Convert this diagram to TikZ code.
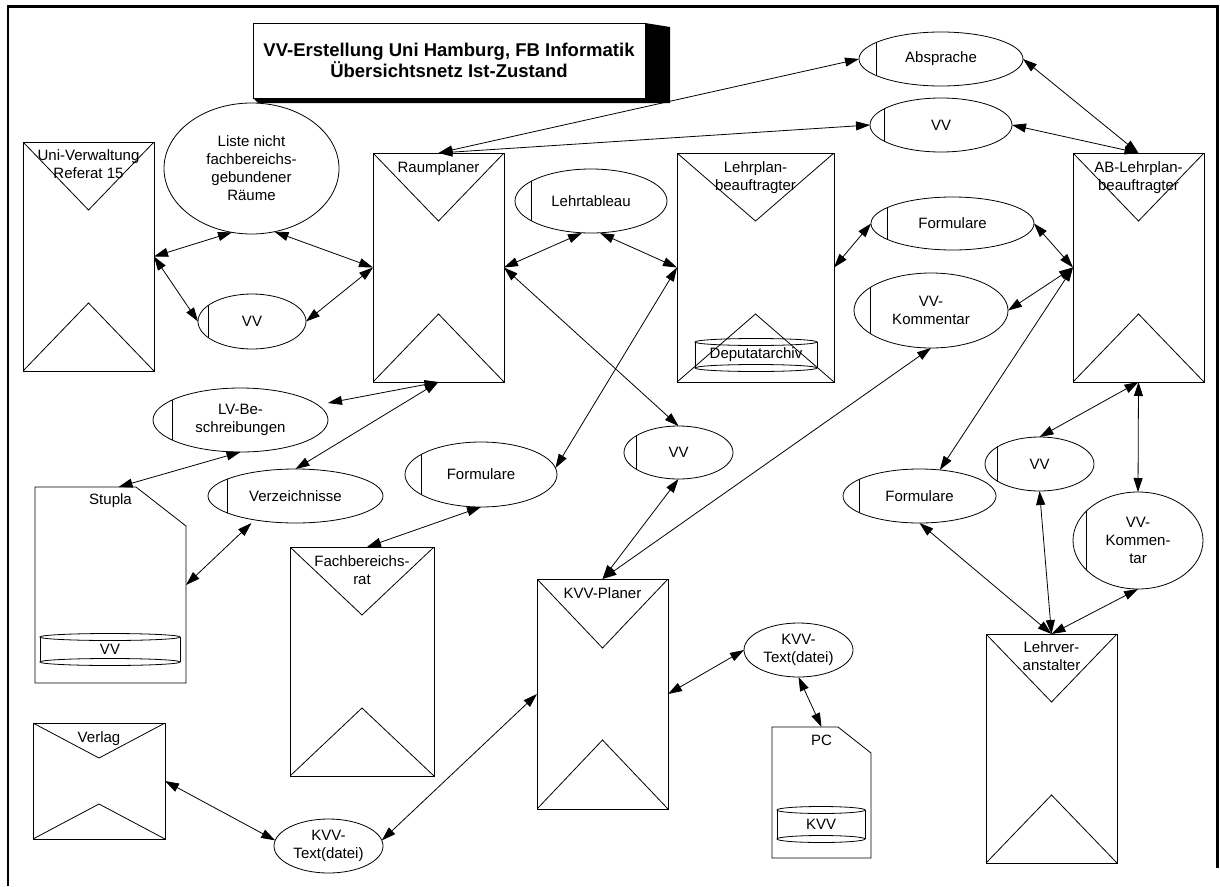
\documentclass[tikz,border=0pt]{standalone}
\usepackage{fontspec}
\setmainfont{Liberation Sans}
\usetikzlibrary{shapes.geometric,arrows.meta,calc}

\begin{document}
\begin{tikzpicture}[x=1pt,y=-1pt,line width=0.8pt,
  every node/.style={inner sep=0pt,outer sep=0pt},
  lbl/.style={font=\fontsize{15}{18}\selectfont,align=center},
  % instance box: rectangle with a triangle hanging from the top and one rising from the bottom
  actor/.style n args={3}{draw,rectangle,minimum width=#1pt,minimum height=#2pt,
    path picture={
      \draw (path picture bounding box.north west) -- ([yshift=-#3pt]path picture bounding box.north) -- (path picture bounding box.north east);
      \draw (path picture bounding box.south west) -- ([yshift=#3pt]path picture bounding box.south) -- (path picture bounding box.south east);
    }},
  % channel with a store bar near its left end
  store/.style n args={3}{draw,ellipse,minimum width=#1pt,minimum height=#2pt,
    font=\fontsize{15}{18}\selectfont,align=center,
    path picture={
      \draw ([xshift=#3pt]path picture bounding box.south west) -- ([xshift=#3pt]path picture bounding box.north west);
    }},
  chan/.style 2 args={draw,ellipse,minimum width=#1pt,minimum height=#2pt,
    font=\fontsize{15}{18}\selectfont,align=center},
  docarea/.style 2 args={rectangle,minimum width=#1pt,minimum height=#2pt},
  drumarea/.style 2 args={rectangle,minimum width=#1pt,minimum height=#2pt,
    font=\fontsize{15}{18}\selectfont},
  >={Triangle[length=14pt,width=9pt]},
  conn/.style={<->,line width=0.8pt}
]
\useasboundingbox (0,0) rectangle (1220,886);
\fill[white] (0,0) rectangle (1220,886);

% outer frame
\draw[line width=2.5pt] (8,886) -- (8,6.5) -- (1217.5,6.5) -- (1217.5,868);

% title with block shadow
\node[draw,fill=white,minimum width=392pt,minimum height=75pt,
  font=\bfseries\fontsize{18.5}{21.5}\selectfont,align=center] (title) at (449,60.5) {};
\fill (title.north east) -- ++(25,4) -- ($(title.south east)+(25,5)$) -- ($(title.south west)+(5,5)$) -- (title.south west) -- cycle;
\node[draw,fill=white,minimum width=392pt,minimum height=75pt,
  font=\bfseries\fontsize{18.5}{21.5}\selectfont,align=center] (titletext) at (449,60.5)
  {VV-Erstellung Uni Hamburg, FB Informatik\\Übersichtsnetz Ist-Zustand};

% instances
\node[actor={131}{229}{68}] (uv) at (88.5,256.5) {};
\node[lbl,anchor=north] (uvT) at ([yshift=-8pt]uv.north) {Uni-Verwaltung\\Referat 15};

\node[actor={131}{229}{68}] (rp) at (438.5,267.5) {};
\node[lbl,anchor=north] (rpT) at ([yshift=-9pt]rp.north) {Raumplaner};

\node[actor={157}{229}{68}] (lp) at (755.5,267.5) {};
\node[lbl,anchor=north] (lpT) at ([yshift=-9pt]lp.north) {Lehrplan-\\beauftragter};

\node[actor={131}{229}{68}] (ab) at (1138.5,267.5) {};
\node[lbl,anchor=north] (abT) at ([yshift=-9pt]ab.north) {AB-Lehrplan-\\beauftragter};

\node[actor={144}{229}{68}] (fb) at (362,661.5) {};
\node[lbl,anchor=north] (fbT) at ([yshift=-9pt]fb.north) {Fachbereichs-\\rat};

\node[actor={131}{230}{69}] (kp) at (602.5,694) {};
\node[lbl,anchor=north] (kpT) at ([yshift=-9pt]kp.north) {KVV-Planer};

\node[actor={131}{229}{68}] (lv) at (1051.5,748.5) {};
\node[lbl,anchor=north] (lvT) at ([yshift=-8pt]lv.north) {Lehrver-\\anstalter};

\node[actor={132}{116}{35}] (vl) at (99,781) {};
\node[lbl,anchor=north] (vlT) at ([yshift=-9pt]vl.north) {Verlag};

% documents with a cut corner
\node[docarea={151}{196}] (st) at (110.5,585) {};
\draw (st.north west) -- ([xshift=-50pt]st.north east) -- ([yshift=-39pt]st.north east) -- (st.south east) -- (st.south west) -- cycle;
\node[lbl,anchor=north] (stT) at ([yshift=-7pt]st.north) {Stupla};

\node[docarea={99}{131}] (pc) at (821.5,792.5) {};
\draw (pc.north west) -- ([xshift=-33pt]pc.north east) -- ([yshift=-26pt]pc.north east) -- (pc.south east) -- (pc.south west) -- cycle;
\node[lbl,anchor=north] (pcT) at ([yshift=-8pt]pc.north) {PC};

% data drums
\node[drumarea={140}{25}] (d1) at (110,649.5) {VV};
\draw (d1.north) ellipse [x radius=70,y radius=3.5];
\draw (d1.south) ellipse [x radius=70,y radius=3.5];
\draw (d1.north west) -- (d1.south west) (d1.north east) -- (d1.south east);

\node[drumarea={122}{26}] (d2) at (756,355) {Deputatarchiv};
\draw (d2.north) ellipse [x radius=61,y radius=3.5];
\draw (d2.south) ellipse [x radius=61,y radius=3.5];
\draw (d2.north west) -- (d2.south west) (d2.north east) -- (d2.south east);

\node[drumarea={88}{29}] (d3) at (821,824.5) {KVV};
\draw (d3.north) ellipse [x radius=44,y radius=3.5];
\draw (d3.south) ellipse [x radius=44,y radius=3.5];
\draw (d3.north west) -- (d3.south west) (d3.north east) -- (d3.south east);

% channels
\node[chan={175}{131}] (li) at (251.5,168.5) {Liste nicht\\fachbereichs-\\gebundener\\Räume};
\node[store={108}{55}{10}] (vv1) at (252,321.5) {VV};
\node[store={152}{64}{16}] (lt) at (591,201) {Lehrtableau};
\node[store={164}{54}{17}] (ap) at (941,59) {Absprache};
\node[store={142}{54}{14}] (vv2) at (941,125) {VV};
\node[store={163}{53}{16}] (fo1) at (952.5,223.5) {Formulare};
\node[store={154}{75}{16}] (km1) at (931,310.5) {VV-\\Kommentar};
\node[store={175}{64}{19}] (lvb) at (240.5,420) {LV-Be-\\schreibungen};
\node[store={175}{54}{19}] (vz) at (295.5,496) {Verzeichnisse};
\node[store={152}{65}{16}] (fo2) at (481,474.5) {Formulare};
\node[store={109}{53}{12}] (vv3) at (678.5,452.5) {VV};
\node[chan={109}{54}] (kt1) at (798.5,650) {KVV-\\Text(datei)};
\node[chan={109}{54}] (kt2) at (328.5,846) {KVV-\\Text(datei)};
\node[store={153}{54}{16}] (fo3) at (919.5,496) {Formulare};
\node[store={109}{54}{12}] (vv4) at (1039.5,464) {VV};
\node[store={130}{97}{13}] (km2) at (1138,540.5) {VV-\\Kommen-\\tar};

% connectors
\draw[conn] (uv.east) -- (li.253);
\draw[conn] (li.290) -- (rp.west);
\draw[conn] (uv.east) -- (vv1.west);
\draw[conn] (vv1.east) -- (rp.west);
\draw[conn] (rp.north) -- (ap.west);
\draw[conn] (rp.north) -- (vv2.west);
\draw[conn] (ap.east) -- (ab.north);
\draw[conn] (vv2.east) -- (ab.north);
\draw[conn] (rp.east) -- ([xshift=-9pt]lt.south);
\draw[conn] ([xshift=9pt]lt.south) -- (lp.west);
\draw[conn] (rp.east) -- (vv3.north);
\draw[conn] (lp.west) -- (fo2.5);
\draw[conn] (lp.east) -- (fo1.west);
\draw[conn] (fo1.east) -- (ab.west);
\draw[conn] (km1.east) -- (ab.west);
\draw[conn] (ab.west) -- (fo3.52);
\draw[conn] (km1.south) -- (kp.north);
\draw[conn] (vv3.south) -- (kp.north);
\draw[conn] (rp.south) -- ([yshift=17pt]lvb.east);
\draw[conn] (rp.south) -- (vz.north);
\draw[conn] (lvb.south) -- ([xshift=8pt]st.north);
\draw[conn] (st.east) -- ([xshift=-44pt]vz.south);
\draw[conn] (fo2.south) -- ([xshift=5pt]fb.north);
\draw[conn] (kp.east) -- (kt1.west);
\draw[conn] (kt1.south) -- (pc.north);
\draw[conn] (kp.west) -- (kt2.6);
\draw[conn] (vl.east) -- (kt2.174);
\draw[conn] (ab.south) -- (vv4.north);
\draw[conn] (ab.south) -- (km2.north);
\draw[conn] (fo3.south) -- (lv.north);
\draw[conn] (vv4.south) -- (lv.north);
\draw[conn] (km2.south) -- (lv.north);
\end{tikzpicture}
\end{document}
